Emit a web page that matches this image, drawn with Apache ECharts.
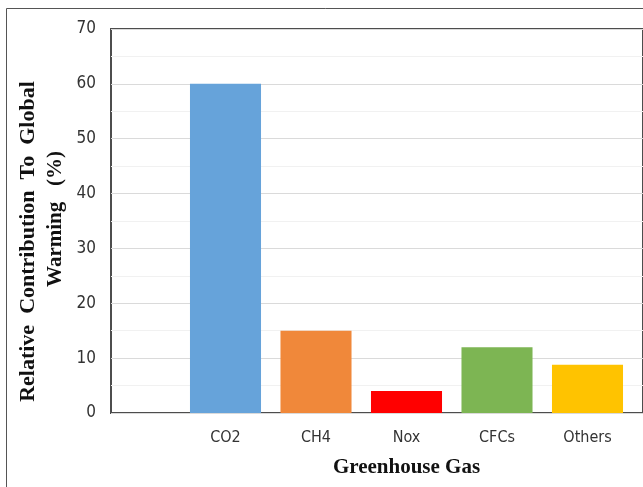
<!DOCTYPE html>
<html>
<head>
<meta charset="utf-8">
<style>
  html, body { margin: 0; padding: 0; background: #fff; }
  #chart { width: 643px; height: 487px; }
</style>
<script src="https://cdn.jsdelivr.net/npm/echarts@6/dist/echarts.min.js"></script>
</head>
<body>
<div id="chart"></div>
<script>
// Greenhouse gases and their share of global warming (%)
const gases = ['CO2', 'CH4', 'Nox', 'CFCs', 'Others'];
const contribution = [60, 15, 4, 12, 8.8];
const barColors = ['#66a3da', '#f0883a', '#ff0000', '#7db553', '#ffc300'];

const yMin = 0;
const yMax = 70;
const yStep = 10;

const tickFont = "'Liberation Sans Narrow', 'DejaVu Sans Condensed', 'Liberation Sans', sans-serif";
const titleFont = "'Liberation Serif', 'DejaVu Serif', serif";

const chart = echarts.init(document.getElementById('chart'));

chart.setOption({
  animation: false,
  backgroundColor: '#ffffff',
  grid: [
    // frame, value axis and gridlines (runs past the right edge)
    { left: 111, top: 29, bottom: 74, width: 620, show: true,
      borderColor: '#4d4d4d', borderWidth: 2, backgroundColor: 'transparent' },
    // category bands for the bars
    { left: 180.25, top: 29, bottom: 74, right: 10.25 }
  ],
  xAxis: [
    { type: 'value', gridIndex: 0, show: false, min: 0, max: 1 },
    {
      type: 'category', gridIndex: 1, data: gases,
      axisLine: { show: false }, axisTick: { show: false },
      axisLabel: { margin: 17, color: '#333', fontSize: 16, fontFamily: tickFont },
      name: 'Greenhouse Gas', nameLocation: 'middle', nameGap: 44,
      nameTextStyle: { fontFamily: titleFont, fontWeight: 'bold', fontSize: 21, color: '#111' }
    }
  ],
  yAxis: [
    {
      type: 'value', gridIndex: 0, min: yMin, max: yMax, interval: yStep,
      axisLine: { show: false }, axisTick: { show: false },
      axisLabel: { margin: 15, color: '#333', fontSize: 17, fontFamily: tickFont },
      splitLine: { lineStyle: { color: '#dadada', width: 1 } },
      minorTick: { show: false, splitNumber: 2 },
      minorSplitLine: { show: true, lineStyle: { color: '#f1f1f1', width: 1 } }
    },
    { type: 'value', gridIndex: 1, min: yMin, max: yMax, show: false }
  ],
  series: [{
    type: 'bar',
    xAxisIndex: 1, yAxisIndex: 1,
    barCategoryGap: '21.5%',
    data: contribution.map((v, i) => ({ value: v, itemStyle: { color: barColors[i] } }))
  }],
  graphic: [
    // outer figure frame: only its left and top edges fall inside the canvas
    { type: 'polyline', shape: { points: [[6.5, 700], [6.5, 8.5], [700, 8.5]] },
      style: { fill: 'none', stroke: '#555', lineWidth: 1 }, silent: true, z: -1 },
    {
      type: 'text', x: 28, y: 241.5, rotation: Math.PI / 2,
      style: { text: 'Relative  Contribution  To  Global', font: 'bold 22px ' + titleFont,
               fill: '#111', align: 'center', verticalAlign: 'middle' }
    },
    {
      type: 'text', x: 56, y: 219, rotation: Math.PI / 2,
      style: { text: 'Warming   (%)', font: 'bold 21px ' + titleFont,
               fill: '#111', align: 'center', verticalAlign: 'middle' }
    }
  ]
});
</script>
</body>
</html>
